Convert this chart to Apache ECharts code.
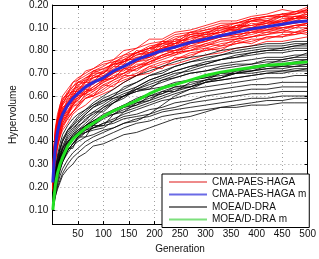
<!DOCTYPE html>
<html><head><meta charset="utf-8">
<script src="https://cdn.jsdelivr.net/npm/echarts@6/dist/echarts.min.js"></script>
<style>html,body{margin:0;padding:0;background:#fff}#c{width:319px;height:259px}</style>
</head><body><div id="c"></div>
<script>
const gens = [1,3,6,10,15,20,30,40,50,65,80,100,120,140,165,190,215,240,270,300,330,360,390,420,450,475,500];
const xTicks = [50,100,150,200,250,300,350,400,450,500];
const yTickValues = [0.1,0.2,0.3,0.4,0.5,0.6,0.7,0.8,0.9,1.0];
const yTickLabels = ['0.10','0.20','0.30','0.40','0.50','0.60','0.70','0.80','0.10','0.20'];

const redRuns = [
[0.28,0.36,0.46,0.50,0.56,0.59,0.61,0.66,0.67,0.71,0.72,0.75,0.76,0.80,0.81,0.85,0.85,0.88,0.89,0.91,0.93,0.93,0.95,0.96,0.98,0.97,0.99],
[0.25,0.34,0.43,0.49,0.53,0.57,0.60,0.62,0.66,0.67,0.71,0.72,0.74,0.78,0.79,0.82,0.83,0.86,0.87,0.89,0.90,0.92,0.93,0.95,0.95,0.97,0.97],
[0.21,0.33,0.40,0.47,0.51,0.55,0.57,0.62,0.62,0.67,0.68,0.70,0.74,0.75,0.78,0.80,0.83,0.83,0.86,0.87,0.88,0.91,0.91,0.93,0.93,0.95,0.95],
[0.20,0.28,0.35,0.42,0.46,0.50,0.54,0.56,0.60,0.61,0.64,0.67,0.68,0.72,0.73,0.76,0.78,0.80,0.81,0.83,0.85,0.86,0.87,0.89,0.89,0.91,0.91],
[0.19,0.26,0.33,0.39,0.43,0.47,0.51,0.53,0.56,0.59,0.60,0.63,0.66,0.68,0.70,0.73,0.75,0.76,0.79,0.80,0.82,0.83,0.85,0.85,0.87,0.87,0.88],
[0.19,0.24,0.31,0.37,0.42,0.45,0.48,0.52,0.54,0.56,0.59,0.61,0.63,0.66,0.69,0.70,0.73,0.74,0.76,0.78,0.79,0.81,0.82,0.84,0.84,0.85,0.86],
[0.29,0.37,0.44,0.50,0.55,0.58,0.62,0.64,0.66,0.68,0.70,0.72,0.74,0.75,0.78,0.79,0.81,0.82,0.84,0.85,0.86,0.88,0.89,0.90,0.92,0.92,0.93],
[0.20,0.27,0.34,0.40,0.45,0.48,0.52,0.56,0.58,0.62,0.64,0.67,0.70,0.73,0.76,0.79,0.81,0.83,0.86,0.88,0.89,0.91,0.93,0.94,0.95,0.96,0.97],
[0.23,0.31,0.39,0.45,0.50,0.53,0.58,0.60,0.63,0.64,0.68,0.69,0.72,0.75,0.77,0.78,0.81,0.83,0.84,0.86,0.88,0.89,0.90,0.92,0.92,0.94,0.94],
[0.26,0.35,0.41,0.47,0.53,0.56,0.59,0.63,0.64,0.68,0.69,0.71,0.75,0.76,0.79,0.81,0.84,0.84,0.87,0.88,0.90,0.90,0.93,0.93,0.95,0.95,0.96],
[0.21,0.28,0.36,0.41,0.47,0.49,0.53,0.56,0.59,0.61,0.63,0.66,0.68,0.70,0.73,0.75,0.77,0.79,0.80,0.82,0.84,0.85,0.86,0.88,0.88,0.90,0.90],
[0.22,0.30,0.37,0.45,0.48,0.53,0.55,0.60,0.60,0.65,0.65,0.69,0.70,0.74,0.75,0.79,0.79,0.82,0.83,0.86,0.86,0.89,0.89,0.91,0.91,0.93,0.93],
[0.30,0.38,0.46,0.52,0.56,0.60,0.63,0.66,0.68,0.70,0.72,0.74,0.75,0.77,0.79,0.81,0.82,0.84,0.85,0.87,0.88,0.90,0.91,0.92,0.93,0.94,0.95],
[0.19,0.25,0.32,0.38,0.43,0.46,0.50,0.53,0.56,0.59,0.61,0.64,0.67,0.70,0.72,0.75,0.78,0.80,0.82,0.84,0.86,0.87,0.88,0.89,0.90,0.91,0.92],
[0.27,0.35,0.43,0.49,0.54,0.58,0.61,0.64,0.67,0.69,0.71,0.73,0.76,0.78,0.81,0.83,0.84,0.87,0.88,0.90,0.92,0.92,0.94,0.95,0.96,0.96,0.98],
[0.22,0.29,0.37,0.43,0.47,0.51,0.55,0.58,0.61,0.62,0.66,0.67,0.70,0.72,0.75,0.77,0.80,0.80,0.83,0.84,0.86,0.87,0.88,0.90,0.90,0.91,0.92],
[0.24,0.32,0.40,0.46,0.50,0.54,0.57,0.60,0.63,0.66,0.68,0.70,0.73,0.76,0.79,0.81,0.83,0.85,0.88,0.89,0.91,0.92,0.94,0.95,0.96,0.97,0.98],
[0.20,0.27,0.35,0.40,0.45,0.48,0.52,0.55,0.57,0.60,0.62,0.65,0.67,0.69,0.72,0.74,0.76,0.78,0.80,0.81,0.83,0.84,0.86,0.87,0.88,0.88,0.89],
[0.24,0.33,0.39,0.47,0.49,0.55,0.56,0.61,0.61,0.66,0.66,0.71,0.71,0.76,0.76,0.81,0.80,0.85,0.84,0.88,0.87,0.91,0.90,0.93,0.92,0.95,0.94],
[0.18,0.27,0.33,0.41,0.44,0.50,0.51,0.56,0.56,0.61,0.60,0.65,0.64,0.69,0.69,0.73,0.72,0.77,0.77,0.81,0.80,0.84,0.83,0.86,0.86,0.88,0.87],
[0.27,0.36,0.42,0.50,0.52,0.57,0.60,0.61,0.65,0.66,0.70,0.70,0.74,0.74,0.79,0.78,0.83,0.82,0.87,0.86,0.90,0.89,0.93,0.92,0.95,0.94,0.97],
[0.23,0.29,0.38,0.42,0.49,0.50,0.56,0.57,0.61,0.61,0.66,0.67,0.71,0.71,0.75,0.76,0.80,0.79,0.83,0.84,0.87,0.86,0.89,0.89,0.91,0.92,0.93],
[0.21,0.30,0.36,0.44,0.46,0.52,0.53,0.58,0.59,0.63,0.62,0.67,0.68,0.72,0.71,0.75,0.77,0.79,0.80,0.83,0.82,0.85,0.86,0.87,0.89,0.88,0.90],
[0.26,0.33,0.41,0.46,0.52,0.53,0.59,0.59,0.64,0.64,0.69,0.68,0.73,0.73,0.77,0.77,0.82,0.81,0.86,0.85,0.89,0.89,0.92,0.91,0.94,0.94,0.96],
[0.20,0.29,0.34,0.43,0.45,0.51,0.52,0.57,0.58,0.62,0.63,0.66,0.69,0.70,0.74,0.74,0.78,0.78,0.82,0.82,0.85,0.85,0.88,0.88,0.90,0.90,0.92],
[0.29,0.35,0.45,0.48,0.55,0.56,0.61,0.62,0.66,0.66,0.71,0.70,0.75,0.75,0.80,0.79,0.84,0.83,0.88,0.87,0.91,0.90,0.94,0.93,0.96,0.96,0.98],
[0.19,0.26,0.32,0.39,0.42,0.47,0.50,0.53,0.55,0.59,0.60,0.62,0.65,0.67,0.69,0.72,0.74,0.76,0.78,0.80,0.81,0.83,0.84,0.86,0.86,0.87,0.89],
[0.25,0.31,0.40,0.44,0.51,0.52,0.57,0.59,0.62,0.63,0.67,0.68,0.71,0.73,0.76,0.77,0.80,0.81,0.84,0.85,0.87,0.88,0.90,0.91,0.93,0.93,0.95]
];
const redMean = [0.22,0.30,0.38,0.44,0.49,0.52,0.56,0.59,0.61,0.64,0.66,0.68,0.71,0.73,0.76,0.78,0.80,0.815,0.835,0.85,0.865,0.88,0.895,0.905,0.915,0.925,0.93];

const blackRuns = [
[0.12,0.19,0.26,0.32,0.37,0.40,0.45,0.48,0.51,0.54,0.57,0.60,0.63,0.66,0.69,0.71,0.73,0.75,0.77,0.78,0.80,0.81,0.82,0.83,0.83,0.84,0.84],
[0.11,0.18,0.25,0.31,0.36,0.40,0.44,0.47,0.50,0.53,0.56,0.59,0.61,0.63,0.66,0.69,0.71,0.73,0.75,0.76,0.78,0.79,0.80,0.81,0.81,0.82,0.82],
[0.13,0.18,0.24,0.30,0.35,0.38,0.43,0.46,0.48,0.52,0.55,0.58,0.60,0.62,0.64,0.67,0.69,0.71,0.73,0.74,0.76,0.77,0.78,0.79,0.79,0.80,0.80],
[0.10,0.16,0.22,0.28,0.33,0.37,0.42,0.45,0.48,0.51,0.53,0.56,0.59,0.61,0.63,0.66,0.68,0.70,0.71,0.73,0.74,0.75,0.76,0.77,0.77,0.78,0.78],
[0.11,0.17,0.23,0.29,0.34,0.37,0.41,0.44,0.47,0.49,0.53,0.53,0.57,0.59,0.63,0.63,0.67,0.68,0.70,0.71,0.73,0.74,0.74,0.76,0.76,0.77,0.77],
[0.12,0.17,0.22,0.27,0.31,0.34,0.39,0.43,0.46,0.50,0.52,0.55,0.57,0.60,0.62,0.64,0.66,0.68,0.70,0.71,0.72,0.73,0.74,0.75,0.75,0.76,0.76],
[0.10,0.15,0.20,0.25,0.30,0.33,0.38,0.41,0.44,0.47,0.49,0.52,0.54,0.56,0.59,0.61,0.63,0.65,0.67,0.68,0.70,0.71,0.72,0.73,0.73,0.74,0.74],
[0.11,0.16,0.22,0.27,0.32,0.35,0.39,0.42,0.44,0.47,0.49,0.51,0.54,0.56,0.58,0.60,0.62,0.64,0.65,0.67,0.68,0.70,0.71,0.72,0.72,0.73,0.73],
[0.10,0.14,0.19,0.24,0.28,0.31,0.36,0.39,0.42,0.45,0.47,0.50,0.52,0.54,0.56,0.58,0.60,0.62,0.64,0.66,0.67,0.68,0.69,0.70,0.70,0.71,0.71],
[0.12,0.17,0.22,0.27,0.31,0.34,0.38,0.41,0.43,0.44,0.45,0.46,0.49,0.53,0.55,0.57,0.59,0.61,0.63,0.64,0.65,0.66,0.67,0.68,0.68,0.69,0.69],
[0.10,0.15,0.20,0.25,0.29,0.32,0.36,0.39,0.41,0.44,0.46,0.48,0.50,0.52,0.54,0.56,0.58,0.59,0.61,0.62,0.63,0.64,0.65,0.65,0.66,0.66,0.66],
[0.11,0.17,0.23,0.28,0.32,0.35,0.39,0.41,0.43,0.45,0.46,0.48,0.49,0.51,0.52,0.54,0.55,0.57,0.58,0.60,0.61,0.62,0.63,0.63,0.64,0.64,0.64],
[0.10,0.14,0.18,0.22,0.27,0.31,0.36,0.39,0.42,0.44,0.46,0.47,0.48,0.50,0.51,0.52,0.54,0.55,0.57,0.58,0.59,0.60,0.61,0.61,0.62,0.62,0.62],
[0.10,0.13,0.17,0.21,0.25,0.28,0.32,0.35,0.37,0.40,0.42,0.44,0.46,0.48,0.50,0.51,0.53,0.54,0.55,0.56,0.57,0.58,0.59,0.59,0.60,0.60,0.60],
[0.10,0.13,0.16,0.20,0.23,0.26,0.30,0.33,0.35,0.38,0.40,0.42,0.44,0.46,0.48,0.49,0.51,0.52,0.53,0.54,0.55,0.55,0.56,0.56,0.57,0.57,0.57],
[0.11,0.16,0.21,0.26,0.31,0.34,0.38,0.41,0.44,0.47,0.50,0.54,0.57,0.60,0.64,0.67,0.69,0.71,0.73,0.75,0.76,0.78,0.79,0.80,0.80,0.81,0.81],
[0.13,0.20,0.27,0.33,0.37,0.41,0.45,0.47,0.49,0.52,0.55,0.57,0.60,0.64,0.66,0.69,0.70,0.73,0.75,0.77,0.78,0.80,0.81,0.82,0.82,0.83,0.83],
[0.12,0.18,0.24,0.29,0.33,0.36,0.40,0.43,0.45,0.47,0.49,0.51,0.53,0.55,0.57,0.59,0.61,0.63,0.64,0.66,0.67,0.68,0.69,0.70,0.71,0.71,0.72],
[0.10,0.15,0.19,0.24,0.28,0.31,0.35,0.38,0.40,0.42,0.43,0.45,0.46,0.48,0.49,0.52,0.56,0.60,0.63,0.66,0.68,0.70,0.71,0.72,0.73,0.73,0.74],
[0.14,0.21,0.28,0.34,0.39,0.43,0.47,0.50,0.52,0.54,0.56,0.58,0.59,0.60,0.62,0.63,0.64,0.66,0.67,0.68,0.69,0.70,0.70,0.71,0.71,0.72,0.72],
[0.11,0.16,0.22,0.26,0.31,0.33,0.37,0.37,0.42,0.42,0.47,0.47,0.52,0.53,0.57,0.58,0.62,0.62,0.66,0.67,0.70,0.70,0.73,0.74,0.76,0.77,0.79],
[0.10,0.12,0.16,0.19,0.22,0.25,0.28,0.30,0.33,0.35,0.38,0.39,0.41,0.43,0.44,0.46,0.48,0.50,0.51,0.53,0.55,0.56,0.57,0.58,0.58,0.59,0.59],
[0.12,0.17,0.24,0.28,0.33,0.35,0.40,0.42,0.43,0.47,0.47,0.51,0.52,0.55,0.56,0.60,0.61,0.64,0.64,0.67,0.68,0.71,0.71,0.73,0.74,0.75,0.76],
[0.13,0.19,0.25,0.30,0.34,0.37,0.40,0.42,0.45,0.48,0.51,0.55,0.58,0.60,0.63,0.65,0.67,0.69,0.72,0.74,0.76,0.77,0.79,0.80,0.81,0.82,0.83]
];
const blackMean = [0.10,0.15,0.21,0.26,0.30,0.33,0.38,0.41,0.43,0.46,0.48,0.51,0.535,0.555,0.58,0.61,0.635,0.65,0.67,0.69,0.705,0.715,0.725,0.735,0.74,0.745,0.75];

const names = ['CMA-PAES-HAGA','CMA-PAES-HAGA m','MOEA/D-DRA','MOEA/D-DRA m'];

const toPts = arr => gens.map((g,i)=>[g, arr[i]]);
const series = [];
redRuns.forEach(r => series.push({type:'line', name:names[0], data:toPts(r), showSymbol:false, silent:true,
  lineStyle:{color:'#ff0000', width:0.8}, itemStyle:{color:'#ff0000'}, z:2}));
blackRuns.forEach(r => series.push({type:'line', name:names[2], data:toPts(r), showSymbol:false, silent:true,
  lineStyle:{color:'#000000', width:0.8}, itemStyle:{color:'#000000'}, z:3}));
series.push({type:'line', name:names[1], data:toPts(redMean), showSymbol:false, silent:true,
  lineStyle:{color:'#2a2ad8', width:3}, itemStyle:{color:'#2a2ad8'}, z:4});
series.push({type:'line', name:names[3], data:toPts(blackMean), showSymbol:false, silent:true,
  lineStyle:{color:'#22e022', width:3}, itemStyle:{color:'#22e022'}, z:4});

const font = 'Liberation Sans, Arial, sans-serif';
const splitLine = {show:true, lineStyle:{color:'#a0a0a0', type:[1,3], width:1}};
const chart = echarts.init(document.getElementById('c'), null, {renderer:'canvas'});
chart.setOption({
  animation:false,
  backgroundColor:'#fff',
  grid:{left:41, top:5, right:6, bottom:25, show:false},
  legend:{
    orient:'vertical', left:162, top:174, padding:[2,3,2,7], itemGap:0.5,
    backgroundColor:'#fff', borderColor:'#000', borderWidth:1, borderRadius:0,
    itemWidth:38, itemHeight:2, itemTextGap:4, selectedMode:false,
    textStyle:{fontFamily:font, fontSize:10, color:'#111', lineHeight:12},
    data:[
      {name:names[0], icon:'rect', itemStyle:{color:'#ee8a8a'}},
      {name:names[1], icon:'rect', itemStyle:{color:'#6a6ae6'}},
      {name:names[2], icon:'rect', itemStyle:{color:'#777777'}},
      {name:names[3], icon:'rect', itemStyle:{color:'#7de07d'}}
    ]
  },
  xAxis:[{
    type:'value', min:0, max:500, interval:50, position:'bottom',
    name:'Generation', nameLocation:'middle', nameGap:19,
    nameTextStyle:{fontFamily:font, fontSize:10, color:'#111'},
    axisLine:{show:true, onZero:false, lineStyle:{color:'#000', width:1}},
    axisTick:{show:true, inside:true, length:3, lineStyle:{color:'#000'}},
    axisLabel:{showMinLabel:false, margin:5, fontFamily:font, fontSize:10, color:'#111',
      formatter: v => xTicks.includes(v) ? String(v) : ''},
    splitLine: splitLine
  },{
    type:'value', min:0, max:500, interval:50, position:'top',
    axisLine:{show:true, onZero:false, lineStyle:{color:'#000', width:1}},
    axisTick:{show:true, inside:true, length:3, lineStyle:{color:'#000'}},
    axisLabel:{show:false}, splitLine:{show:false}
  }],
  yAxis:[{
    type:'value', min:0.037, max:1.0, position:'left',
    name:'Hypervolume', nameLocation:'middle', nameGap:25,
    nameTextStyle:{fontFamily:font, fontSize:10, color:'#111'},
    axisLine:{show:true, onZero:false, lineStyle:{color:'#000', width:1}},
    axisTick:{show:true, inside:true, length:3, customValues:yTickValues, lineStyle:{color:'#000'}},
    axisLabel:{customValues:yTickValues, margin:4, fontFamily:font, fontSize:10, color:'#111',
      formatter: v => yTickLabels[Math.round(v*10)-1]},
    splitLine: splitLine
  },{
    type:'value', min:0.037, max:1.0, position:'right',
    axisLine:{show:true, onZero:false, lineStyle:{color:'#000', width:1}},
    axisTick:{show:true, inside:true, length:3, customValues:yTickValues, lineStyle:{color:'#000'}},
    axisLabel:{show:false}, splitLine:{show:false}
  }],
  series: series
});
</script>
</body></html>
